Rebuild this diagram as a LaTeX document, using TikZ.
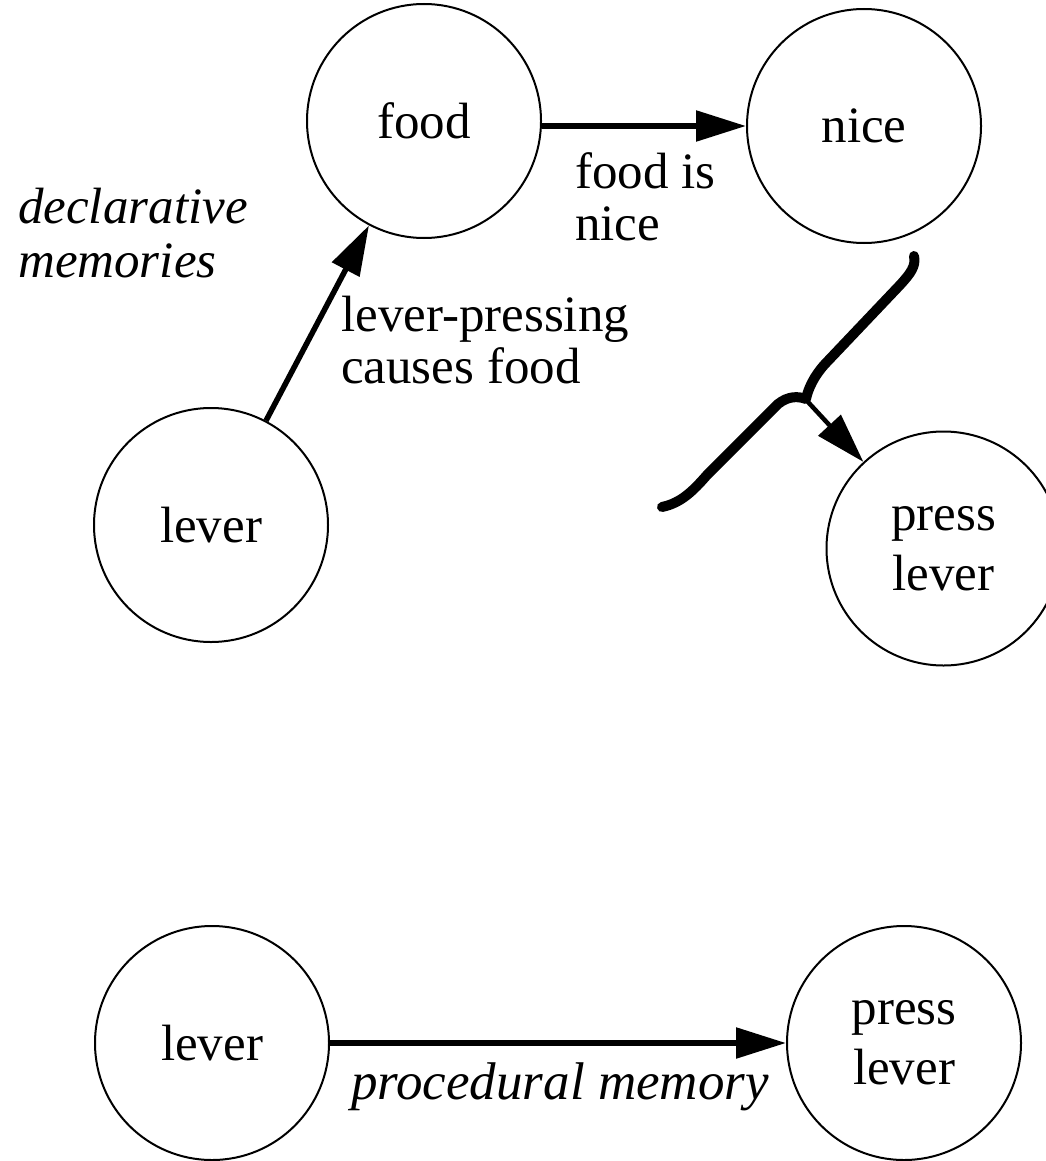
\documentclass[tikz,border=0pt]{standalone}
\usepackage{fontspec}
\setmainfont{Liberation Serif}
\usetikzlibrary{arrows.meta}
\begin{document}
\begin{tikzpicture}[x=1pt,y=-1pt,
  state/.style={circle,draw,line width=2pt,minimum size=234pt,inner sep=0pt,align=center,font=\fontsize{51}{60}\selectfont},
  lbl/.style={inner sep=0pt,align=left,font=\fontsize{51}{52}\selectfont},
  arr/.style={line width=5.5pt,-{Triangle[length=50pt,width=30pt]}},
  bracestyle/.style={line width=10pt,line cap=round,line join=round}]
\useasboundingbox (0,0) rectangle (1045,1161);
% nodes
\node[state] (food) at (424,121) {food};
\node[state] (nice) at (864,126) {nice};
\node[state] (lever1) at (211,525) {lever};
\node[state] (press1) at (943.5,548.5) {press\\lever};
\node[state] (lever2) at (212,1043) {lever};
\node[state] (press2) at (904,1043) {press\\lever};
% labels
\node[lbl,anchor=north west,font=\fontsize{51}{54}\selectfont\itshape] (decl) at (18,188) {declarative\\memories};
\node[lbl,anchor=north west] (lp) at (341,296) {lever-pressing\\causes food};
\node[lbl,anchor=north west] (fin) at (575,152) {food is\\nice};
\node[lbl,anchor=north,font=\fontsize{53}{54}\selectfont\itshape] (proc) at (560,1063) {procedural memory};
% connectors
\draw[arr] (lever1) -- (food);
\draw[arr] (food.east |- nice.west) -- (nice.west);
\draw[arr] (lever2) -- (press2);
% brace
\draw[bracestyle] (662,507) .. controls (681,503) and (693,491) .. (707,475)
  -- (778,404) .. controls (788,396) and (798,396) .. (806,399)
  .. controls (808,389) and (814,376) .. (825,364)
  -- (900,285) .. controls (911,273) and (916,266) .. (914,256);
\coordinate (tip) at (808,402);
\draw[arr,line width=4.5pt] (tip) -- (press1);
\end{tikzpicture}
\end{document}
